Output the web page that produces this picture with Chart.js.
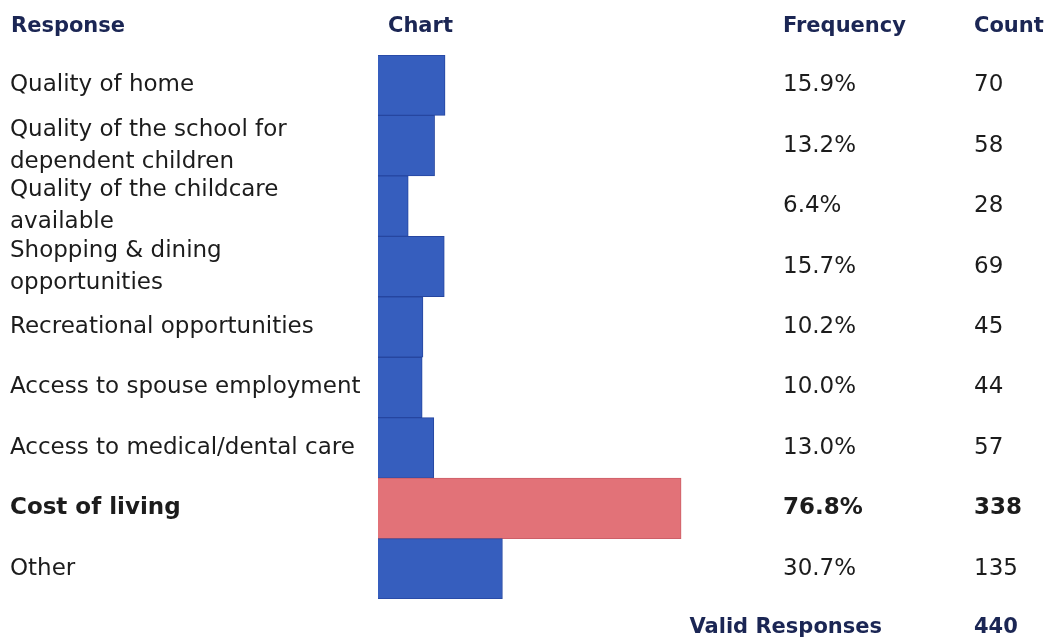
<!DOCTYPE html>
<html>
<head>
<meta charset="utf-8">
<script src="https://cdn.jsdelivr.net/npm/chart.js@4"></script>
<style>
  html, body { margin: 0; padding: 0; background: #fff; }
  #wrap { width: 1050px; height: 641px; position: relative; }
</style>
</head>
<body>
<div id="wrap"><canvas id="chart"></canvas></div>
<script>
// table data
const responses = [
    'Quality of home',
    ['Quality of the school for', 'dependent children'],
    ['Quality of the childcare', 'available'],
    ['Shopping & dining', 'opportunities'],
    'Recreational opportunities',
    'Access to spouse employment',
    'Access to medical/dental care',
    'Cost of living',
    'Other'
];
const frequency = [15.9, 13.2, 6.4, 15.7, 10.2, 10.0, 13.0, 76.8, 30.7];
const counts = [70, 58, 28, 69, 45, 44, 57, 338, 135];
const highlighted = [false, false, false, false, false, false, false, true, false];
const headers = ['Response', 'Chart', 'Frequency', 'Count'];
const footerLabel = 'Valid Responses';
const validResponses = 440;

const FONT = '"DejaVu Sans", sans-serif';
const BLUE = 'rgb(54, 94, 190)';
const BLUE_EDGE = 'rgb(38, 70, 160)';
const PINK = 'rgb(226, 114, 120)';
const PINK_EDGE = 'rgb(205, 95, 104)';
const NAVY = '#1b2654';
const INK = '#1c1c1c';
const X_MIN = -1.4;

let ctx = document.getElementById('chart').getContext('2d');

// draws header row, frequency/count columns and footer
const tablePlugin = {
    id: 'table',
    afterDraw(chart) {
        const c = chart.ctx;
        const y = chart.scales.y;
        const area = chart.chartArea;
        const colFreq = 783, colCount = 974;

        c.save();
        c.textBaseline = 'middle';
        c.textAlign = 'left';

        c.fillStyle = NAVY;
        c.font = 'bold 21px ' + FONT;
        c.fillText(headers[0], 11, 27);
        c.fillText(headers[1], area.left + 10, 27);
        c.fillText(headers[2], colFreq, 27);
        c.fillText(headers[3], colCount, 27);

        for (let i = 0; i < frequency.length; i++) {
            const py = y.getPixelForValue(i);
            c.fillStyle = INK;
            c.font = (highlighted[i] ? 'bold ' : '') + '23px ' + FONT;
            c.fillText(frequency[i].toFixed(1) + '%', colFreq, py);
            c.fillText(String(counts[i]), colCount, py);
        }

        c.fillStyle = NAVY;
        c.font = 'bold 21px ' + FONT;
        c.textAlign = 'right';
        c.fillText(footerLabel, 882, 628);
        c.textAlign = 'left';
        c.fillText(String(validResponses), colCount, 628);
        c.restore();
    }
};

let myChart = new Chart(ctx, {
    type: 'bar',
    data: {
        labels: responses,
        datasets: [{
            data: frequency,
            base: X_MIN,
            backgroundColor: highlighted.map(h => h ? PINK : BLUE),
            borderColor: highlighted.map(h => h ? PINK_EDGE : BLUE_EDGE),
            borderWidth: 1,
            barPercentage: 1,
            categoryPercentage: 1
        }]
    },
    options: {
        indexAxis: 'y',
        responsive: true,
        maintainAspectRatio: false,
        animation: false,
        layout: {
            padding: { top: 55, bottom: 42, left: 10, right: 279 }
        },
        plugins: {
            legend: { display: false },
            tooltip: { enabled: false }
        },
        scales: {
            x: {
                display: false,
                min: X_MIN,
                max: 100
            },
            y: {
                afterFit(scale) { scale.width = 368; },
                grid: { display: false },
                border: { display: false },
                ticks: {
                    autoSkip: false,
                    crossAlign: 'far',
                    color: INK,
                    padding: 0,
                    font: (c) => ({
                        family: FONT,
                        size: 23,
                        lineHeight: 1.39,
                        weight: highlighted[c.index] ? 'bold' : 'normal'
                    })
                }
            }
        }
    },
    plugins: [tablePlugin]
});
</script>
</body>
</html>
